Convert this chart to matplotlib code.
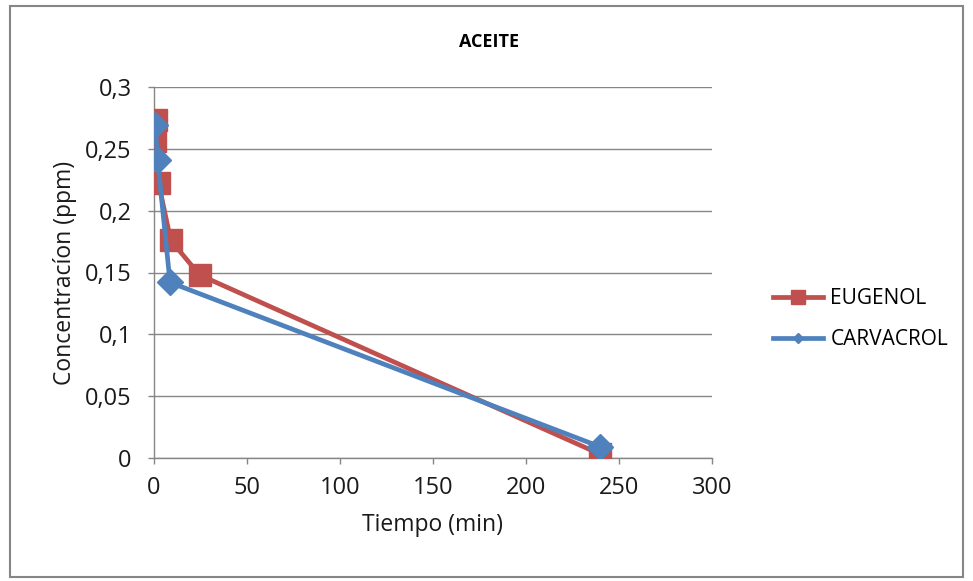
import matplotlib
matplotlib.use("Agg")
import matplotlib.pyplot as plt
from matplotlib.lines import Line2D
from matplotlib.patches import Rectangle

plt.rcParams['font.family'] = ['Open Sans', 'DejaVu Sans']

title = "ACEITE"
xlabel = "Tiempo (min)"
ylabel = "Concentracíon (ppm)"

eugenol_t = [1, 0.6, 2.5, 9, 24.5, 240]
eugenol_c = [0.273, 0.256, 0.222, 0.176, 0.148, 0.003]
carvacrol_t = [0.6, 2, 8.6, 240]
carvacrol_c = [0.269, 0.241, 0.142, 0.009]

xticks = [0, 50, 100, 150, 200, 250, 300]
yticks = [0, 0.05, 0.1, 0.15, 0.2, 0.25, 0.3]
ytick_labels = ["0", "0,05", "0,1", "0,15", "0,2", "0,25", "0,3"]

red = "#C0504D"
blue = "#4F81BD"
gray = "#868686"

fig = plt.figure(figsize=(9.73, 5.81), dpi=100)
W, H = 973, 581
ax = fig.add_axes([154 / W, 1 - 458 / H, (712 - 154) / W, (458 - 87) / H])

ax.plot(eugenol_t, eugenol_c, color=red, lw=3.4, marker='s', ms=16,
        mec=red, mfc=red, zorder=3)
ax.plot(carvacrol_t, carvacrol_c, color=blue, lw=3.4, marker='D', ms=13,
        mec=blue, mfc=blue, zorder=4)

ax.set_xlim(0, 300)
ax.set_ylim(0, 0.3)
ax.set_xticks(xticks)
ax.set_xticklabels([str(v) for v in xticks])
ax.set_yticks(yticks)
ax.set_yticklabels(ytick_labels)
ax.grid(axis='y', color=gray, lw=1)
ax.set_axisbelow(True)
for s in ['top', 'right']:
    ax.spines[s].set_visible(False)
for s in ['left', 'bottom']:
    ax.spines[s].set_color(gray)
    ax.spines[s].set_linewidth(1)
ax.tick_params(axis='both', colors=gray, labelcolor='#1a1a1a', labelsize=17,
               length=4, width=1, direction='out')
ax.tick_params(axis='y', pad=12)
ax.tick_params(axis='x', pad=9)
ax.set_xlabel(xlabel, fontsize=16.5, labelpad=9, color='#1a1a1a')
ax.set_ylabel(ylabel, fontsize=16.5, labelpad=6, color='#1a1a1a')

fig.text(489 / W, 1 - 42 / H, title, ha='center', va='center',
         fontsize=13, fontweight='bold')

handles = [
    Line2D([], [], color=red, lw=3.4, marker='s', ms=10),
    Line2D([], [], color=blue, lw=3.4, marker='D', ms=5),
]
fig.legend(handles, ["EUGENOL", "CARVACROL"], loc='center left',
           bbox_to_anchor=(773 / W, 1 - 319 / H), frameon=False,
           fontsize=15, handlelength=2.4, labelspacing=0.95, handletextpad=0.35,
           borderpad=0, borderaxespad=0)

fig.patches.append(Rectangle((10 / W, 4 / H), (963 - 10) / W, (575 - 4) / H,
                             transform=fig.transFigure, fill=False,
                             edgecolor=gray, lw=1.5))

fig.savefig("out.png", dpi=100)
